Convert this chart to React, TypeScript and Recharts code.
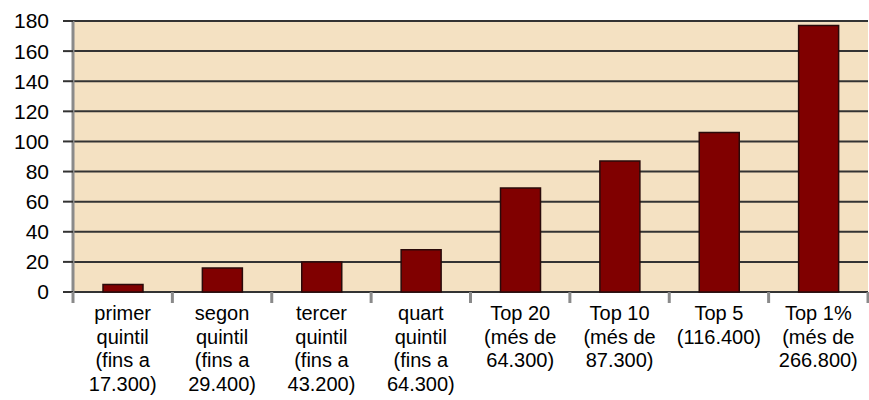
import React from "react";
import { BarChart, Bar, XAxis, YAxis, CartesianGrid } from "recharts";

const categories = [
  "primer\nquintil\n(fins a\n17.300)",
  "segon\nquintil\n(fins a\n29.400)",
  "tercer\nquintil\n(fins a\n43.200)",
  "quart\nquintil\n(fins a\n64.300)",
  "Top 20\n(més de\n64.300)",
  "Top 10\n(més de\n87.300)",
  "Top 5\n(116.400)",
  "Top 1%\n(més de\n266.800)",
];
const values = [5, 16, 20, 28, 69, 87, 106, 177];
const yTicks = [0, 20, 40, 60, 80, 100, 120, 140, 160, 180];

const data = categories.map((name, i) => ({ name, value: values[i] }));

const W = 869;
const H = 400;
const LEFT = 73;
const RIGHT = 1;
const BAND = (W - LEFT - RIGHT) / categories.length;
const FONT = "'Liberation Sans', Arial, sans-serif";

function XTick(props: any) {
  const { x, y, payload, index } = props;
  const lines = String(payload.value).split("\n");
  const left = x - BAND / 2;
  return (
    <g>
      <line x1={left} y1={y - 8} x2={left} y2={y + 3} stroke="#8a8a8a" strokeWidth={3} />
      {index === categories.length - 1 && (
        <line x1={left + BAND} y1={y - 8} x2={left + BAND} y2={y + 3} stroke="#8a8a8a" strokeWidth={3} />
      )}
      <text x={x} y={y + 20} textAnchor="middle" fill="#000" fontSize={20} fontFamily={FONT}>
        {lines.map((l, i) => (
          <tspan key={i} x={x} dy={i === 0 ? 0 : 23.5}>
            {l}
          </tspan>
        ))}
      </text>
    </g>
  );
}

export default function App() {
  return (
    <div style={{ position: "absolute", left: 0, top: 0, width: W, height: H, background: "#fff" }}>
      <BarChart width={W} height={H} data={data} margin={{ top: 21, right: RIGHT, left: 0, bottom: 0 }}>
        <CartesianGrid vertical={false} fill="#F4E1C2" stroke="#333" strokeWidth={2} />
        <XAxis
          dataKey="name"
          interval={0}
          height={108}
          axisLine={false}
          tickLine={false}
          tick={<XTick />}
        />
        <YAxis
          width={LEFT}
          domain={[0, 180]}
          ticks={yTicks}
          interval={0}
          axisLine={{ stroke: "#8a8a8a", strokeWidth: 3 }}
          tickLine={{ stroke: "#333", strokeWidth: 2 }}
          tickSize={10}
          tickMargin={14}
          tick={{ fill: "#000", fontSize: 21, fontFamily: FONT }}
        />
        <Bar dataKey="value" fill="#800000" stroke="#2a0a0a" strokeWidth={1.5} barSize={40} isAnimationActive={false} />
      </BarChart>
    </div>
  );
}
